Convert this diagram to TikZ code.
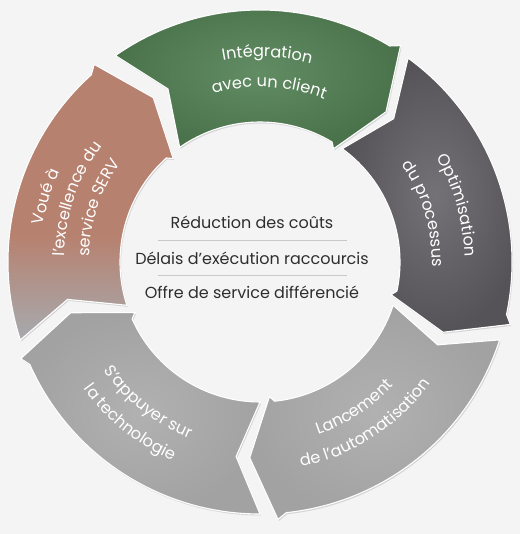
\documentclass[tikz,border=0pt]{standalone}
\usepackage{fontspec}
\setmainfont{Poppins}
\usetikzlibrary{decorations.text}
\definecolor{bg}{HTML}{F4F4F4}
\definecolor{grnout}{HTML}{4A734B}
\definecolor{grnin}{HTML}{628C64}
\definecolor{drkout}{HTML}{555357}
\definecolor{drkin}{HTML}{747276}
\definecolor{lgout}{HTML}{A2A2A3}
\definecolor{lgin}{HTML}{B1B1B2}
\definecolor{vgray}{HTML}{A8A6A8}
\definecolor{vsal}{HTML}{B7816F}
\definecolor{ctext}{HTML}{2E2E2E}
\definecolor{sepline}{HTML}{C9C9C9}
\pgfdeclareverticalshading{vouesh}{100bp}{color(0bp)=(vgray); color(27bp)=(vgray); color(44bp)=(vsal); color(100bp)=(vsal)}
\newcommand\lblfont{\fontsize{16.2}{19}\selectfont\color{white}}
\newcommand\ringpath[1]{({#1+34}:252pt) arc[start angle={#1+34}, end angle={#1-32}, radius=252pt] -- ({#1-34}:258pt) -- ({#1-41}:196pt) -- ({#1-34}:135pt) -- ({#1-32}:140pt) arc[start angle={#1-32}, end angle={#1+34}, radius=140pt] -- ({#1+27}:196pt) -- cycle}
\tikzset{
  segshadow/.style={fill=black, opacity=0.13},
  segedge/.style={draw=white, line width=1.1pt},
  ctr/.style={text=ctext, font=\fontsize{16}{19}\selectfont, anchor=center},
  sep/.style={draw=sepline, line width=0.6pt}
}
\newcommand\arclabel[4]{% center angle, radius, direction(1 cw / -1 ccw), text
  \path[decorate, decoration={text along path, text align=center, text={|\lblfont|#4}}]
    ({#1+#3*70}:#2) arc[start angle={#1+#3*70}, end angle={#1-#3*70}, radius=#2];}
\begin{document}
\begin{tikzpicture}[x=1pt,y=1pt]
\useasboundingbox (-260,-272) rectangle (260,262);
\fill[bg] (-260,-272) rectangle (260,262);
% shadows
\foreach \c in {91,20,-52,-124,164}{
  \fill[segshadow, xshift=1pt, yshift=-1.5pt] \ringpath{\c};
}
% segments
\shade[inner color=grnin, outer color=grnout, segedge] \ringpath{91};
\shade[inner color=drkin, outer color=drkout, segedge] \ringpath{20};
\shade[inner color=lgin, outer color=lgout, segedge] \ringpath{-52};
\shade[inner color=lgin, outer color=lgout, segedge] \ringpath{-124};
\shade[shading=vouesh, segedge] \ringpath{164};
% labels
\arclabel{88}{205pt}{1}{Intégration}
\arclabel{87}{175pt}{1}{avec un client}
\arclabel{16}{205pt}{1}{Optimisation}
\arclabel{16.5}{172pt}{1}{du processus}
\arclabel{-57}{182pt}{-1}{Lancement}
\arclabel{-57}{209pt}{-1}{de l’automatisation}
\arclabel{-128.5}{190pt}{-1}{S’appuyer sur}
\arclabel{-129}{217pt}{-1}{la technologie}
\arclabel{163}{220pt}{1}{Voué à}
\arclabel{161}{196pt}{1}{l’excellence du}
\arclabel{161.5}{171pt}{1}{service SERV}
% centre
\node[ctr] (t1) at (-8,40) {Réduction des coûts};
\node[ctr] (t2) at (-8,4) {Délais d’exécution raccourcis};
\node[ctr] (t3) at (-8,-30) {Offre de service différencié};
\coordinate (s1a) at (-102,22); \coordinate (s1b) at (87,22);
\coordinate (s2a) at (-102,-13); \coordinate (s2b) at (87,-13);
\draw[sep] (s1a) -- (s1b);
\draw[sep] (s2a) -- (s2b);
\end{tikzpicture}
\end{document}
